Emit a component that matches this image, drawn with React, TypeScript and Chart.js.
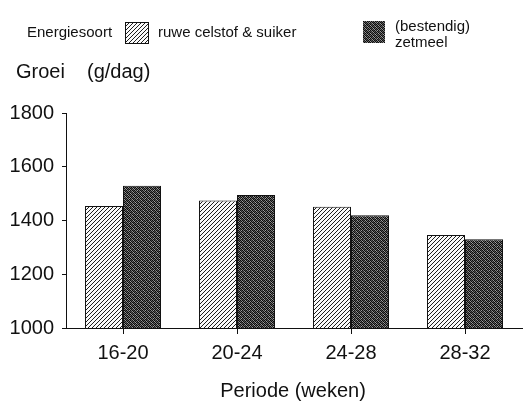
import React, { useEffect, useRef } from "react";
import { Chart, registerables } from "chart.js";

Chart.register(...registerables);

const categories = ["16-20", "20-24", "24-28", "28-32"];
const seriesNames = ["ruwe celstof & suiker", "(bestendig) zetmeel"];
const ruweCelstofSuiker = [1454, 1474, 1451, 1346];
const bestendigZetmeel = [1529, 1495, 1420, 1330];
const yTicks = [1000, 1200, 1400, 1600, 1800];
const legendTitle = "Energiesoort";
const yTitle = ["Groei", "(g/dag)"];
const xTitle = "Periode (weken)";

const FONT = "'Liberation Sans', Arial, Helvetica, sans-serif";

function makeHatch(): CanvasPattern | string {
  const c = document.createElement("canvas");
  c.width = 4;
  c.height = 4;
  const ctx = c.getContext("2d");
  if (!ctx) return "#999";
  const img = ctx.createImageData(4, 4);
  for (let y = 0; y < 4; y++) {
    for (let x = 0; x < 4; x++) {
      const i = (y * 4 + x) * 4;
      const on = (x + y) % 4 === 3;
      const v = on ? 30 : 250;
      img.data[i] = v;
      img.data[i + 1] = v;
      img.data[i + 2] = v;
      img.data[i + 3] = 255;
    }
  }
  ctx.putImageData(img, 0, 0);
  return ctx.createPattern(c, "repeat") || "#999";
}

const stippleTile = [
  0, 120, 0, 80, 20, 140, 0, 60,
  100, 0, 150, 10, 70, 0, 110, 0,
  0, 60, 0, 130, 0, 90, 30, 150,
  140, 20, 90, 0, 120, 0, 60, 0,
  0, 110, 0, 60, 10, 150, 0, 100,
  70, 0, 130, 0, 100, 20, 140, 0,
  20, 150, 0, 110, 0, 60, 0, 120,
  120, 0, 60, 30, 140, 0, 80, 10,
];

function makeStipple(): CanvasPattern | string {
  const c = document.createElement("canvas");
  c.width = 8;
  c.height = 8;
  const ctx = c.getContext("2d");
  if (!ctx) return "#333";
  const img = ctx.createImageData(8, 8);
  for (let k = 0; k < 64; k++) {
    const v = stippleTile[k] + 10;
    img.data[k * 4] = v;
    img.data[k * 4 + 1] = v;
    img.data[k * 4 + 2] = v;
    img.data[k * 4 + 3] = 255;
  }
  ctx.putImageData(img, 0, 0);
  return ctx.createPattern(c, "repeat") || "#333";
}

export default function App() {
  const ref = useRef<HTMLCanvasElement | null>(null);

  useEffect(() => {
    if (!ref.current) return;
    const hatch = makeHatch();
    const stipple = makeStipple();

    const textPlugin = {
      id: "texts",
      afterDraw(chart: any) {
        const ctx = chart.ctx as CanvasRenderingContext2D;
        ctx.save();
        ctx.fillStyle = "#111";
        ctx.textBaseline = "middle";
        ctx.textAlign = "left";
        // legend
        ctx.font = `15px ${FONT}`;
        ctx.fillText(legendTitle, 27, 33);
        ctx.fillStyle = hatch as any;
        ctx.fillRect(125, 22, 24, 22);
        ctx.strokeStyle = "#111";
        ctx.lineWidth = 1;
        ctx.strokeRect(125.5, 22.5, 23, 21);
        ctx.fillStyle = "#111";
        ctx.fillText(seriesNames[0], 158, 33);
        ctx.fillStyle = stipple as any;
        ctx.fillRect(363, 21, 22, 22);
        ctx.fillStyle = "#111";
        ctx.fillText("(bestendig)", 395, 27);
        ctx.fillText("zetmeel", 395, 43);
        // y title
        ctx.font = `20px ${FONT}`;
        ctx.fillText(yTitle[0], 16, 72);
        ctx.fillText(yTitle[1], 87, 72);
        // x title
        ctx.textAlign = "center";
        ctx.fillText(xTitle, 293, 391);
        ctx.restore();
      },
    };

    const chart = new Chart(ref.current, {
      type: "bar",
      data: {
        labels: categories,
        datasets: [
          {
            label: seriesNames[0],
            data: ruweCelstofSuiker,
            backgroundColor: hatch as any,
            borderColor: "#111",
            borderWidth: 1,
            categoryPercentage: 0.667,
            barPercentage: 1,
          },
          {
            label: seriesNames[1],
            data: bestendigZetmeel,
            backgroundColor: stipple as any,
            borderColor: "#111",
            borderWidth: 1,
            categoryPercentage: 0.667,
            barPercentage: 1,
          },
        ],
      },
      options: {
        responsive: false,
        animation: false,
        layout: { padding: { top: 113, right: 6, left: 0, bottom: 0 } },
        plugins: {
          legend: { display: false },
          tooltip: { enabled: false },
          title: { display: false },
        },
        scales: {
          x: {
            grid: {
              display: true,
              drawOnChartArea: false,
              drawTicks: true,
              tickLength: 6,
              offset: false,
              color: "#111",
            },
            border: { display: true, color: "#111", width: 1 },
            ticks: {
              color: "#111",
              font: { family: FONT, size: 20 },
              padding: 7,
            },
            afterFit: (scale: any) => {
              scale.height = 82;
            },
          },
          y: {
            min: 1000,
            max: 1800,
            afterBuildTicks: (scale: any) => {
              scale.ticks = yTicks.map((v) => ({ value: v }));
            },
            grid: {
              display: true,
              drawOnChartArea: false,
              drawTicks: true,
              tickLength: 4,
              color: "#111",
            },
            border: { display: true, color: "#111", width: 1 },
            ticks: {
              color: "#111",
              font: { family: FONT, size: 20 },
              padding: 8,
              callback: (v: any) => String(v),
            },
            afterFit: (scale: any) => {
              scale.width = 66;
            },
          },
        },
      },
      plugins: [textPlugin],
    });
    return () => chart.destroy();
  }, []);

  return (
    <div style={{ position: "fixed", left: 0, top: 0, width: 528, height: 410, background: "#fff" }}>
      <canvas ref={ref} width={528} height={410} style={{ display: "block" }} />
    </div>
  );
}
